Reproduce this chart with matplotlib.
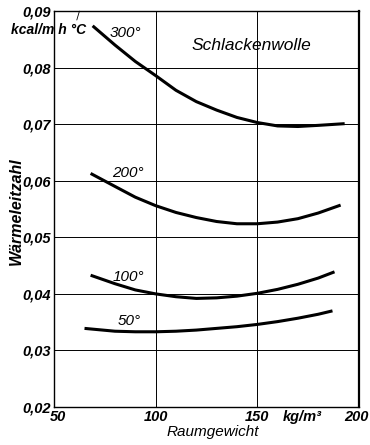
import numpy as np
import matplotlib.pyplot as plt

plt.rcParams['font.family'] = ['Liberation Sans', 'DejaVu Sans']

# Raumgewicht kg/m3 and Waermeleitzahl kcal/m h C
x_300 = [69, 80, 90, 100, 110, 120, 130, 140, 150, 160, 170, 180, 193]
y_300 = [0.0874, 0.0840, 0.0811, 0.0786, 0.0760, 0.0740, 0.0725, 0.0712, 0.0703, 0.0697, 0.0696, 0.0698, 0.0701]
x_200 = [68, 80, 90, 100, 110, 120, 130, 140, 150, 160, 170, 180, 191]
y_200 = [0.0613, 0.0590, 0.0571, 0.0556, 0.0544, 0.0535, 0.0528, 0.0524, 0.0524, 0.0527, 0.0533, 0.0543, 0.0557]
x_100 = [68, 80, 90, 100, 110, 120, 130, 140, 150, 160, 170, 180, 188]
y_100 = [0.0433, 0.0418, 0.0407, 0.0400, 0.0395, 0.0392, 0.0393, 0.0396, 0.0401, 0.0408, 0.0417, 0.0428, 0.0439]
x_50 = [65, 80, 90, 100, 110, 120, 130, 140, 150, 160, 170, 180, 187]
y_50 = [0.0339, 0.0334, 0.0333, 0.0333, 0.0334, 0.0336, 0.0339, 0.0342, 0.0346, 0.0351, 0.0357, 0.0364, 0.0370]

curves = [(x_300, y_300, '300°', (77.6, 0.0849)),
          (x_200, y_200, '200°', (78.6, 0.0602)),
          (x_100, y_100, '100°', (78.6, 0.0418)),
          (x_50, y_50, '50°', (81.5, 0.0339))]

xticks = [50, 100, 150, 200]
yticks = [0.02, 0.03, 0.04, 0.05, 0.06, 0.07, 0.08, 0.09]
ylabels = ['0,02', '0,03', '0,04', '0,05', '0,06', '0,07', '0,08', '0,09']

fig = plt.figure(figsize=(3.7, 4.45), dpi=100)
ax = fig.add_axes([0.146, 0.0854, 0.824, 0.8896])

for x, y, lab, pos in curves:
    ax.plot(x, y, color='black', lw=2.2, solid_capstyle='butt')
    ax.text(pos[0], pos[1], lab, fontsize=11, style='italic', ha='left', va='bottom')

ax.set_xlim(50, 200)
ax.set_ylim(0.02, 0.09)
ax.set_xticks(xticks)
ax.set_xticklabels([])
ax.set_yticks(yticks)
ax.set_yticklabels(ylabels, fontsize=10.5, style='italic', fontweight='bold')
ax.tick_params(length=0, pad=2)
ax.grid(True, color='black', lw=0.7)
for s in ax.spines.values():
    s.set_linewidth(1.0)
ax.spines['right'].set_linewidth(1.6)

tk = dict(fontsize=10.5, style='italic', fontweight='bold', va='top')
for xv in [100, 150]:
    ax.text(xv, 0.0195, str(xv), ha='center', **tk)
ax.text(48, 0.0195, '50', ha='left', **tk)
ax.text(0.997, 1 - 410 / 445, '200', ha='right', transform=fig.transFigure, **tk)
ax.text(172, 0.0195, 'kg/m³', ha='center', **tk)

fig.text(213 / 370, 1 - 432 / 445, 'Raumgewicht', fontsize=11, style='italic',
         ha='center', va='center')
fig.text(0.043, 0.526, 'Wärmeleitzahl', rotation=90, fontsize=11.5, style='italic',
         fontweight='bold', ha='center', va='center')
ax.text(147, 0.0840, 'Schlackenwolle', fontsize=12.5, style='italic', ha='center', va='center')

ax.annotate('kcal/m h °C', xy=(62.5, 0.09), xytext=(47.5, 0.0867),
            fontsize=10, style='italic', fontweight='bold', ha='center', va='center',
            annotation_clip=False,
            arrowprops=dict(arrowstyle='-', lw=0.6, color='black', shrinkA=0, shrinkB=0,
                            relpos=(0.86, 1.0)))

fig.savefig('out.png', dpi=100)
